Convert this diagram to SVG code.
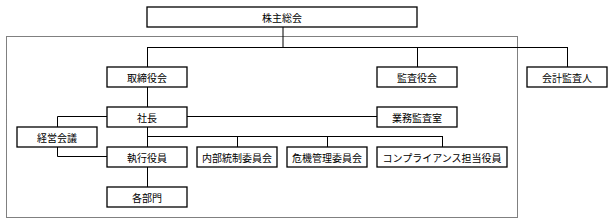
<svg xmlns="http://www.w3.org/2000/svg" width="613" height="223" viewBox="0 0 613 223">
<style>
.b{fill:#fff;stroke:#000;stroke-width:1.3}
.t{font-family:"Noto Sans CJK JP","Noto Sans CJK SC",sans-serif;font-size:10px;fill:#000;text-anchor:middle;dominant-baseline:central}
.c{fill:none;stroke:#000;stroke-width:1}
</style>
<rect x="6.5" y="36.5" width="511" height="181" fill="none" stroke="#000" stroke-width="1" stroke-dasharray="1,1"/>
<g id="connectors">
<path class="c" d="M283 27V47.5M147 47.5H567M147.5 47V67M417.5 47V67M567.5 47V67"/>
<path class="c" d="M147.5 87V107M107 116.5H57.5V127M187 116.5H377M57.5 147V156.5H107"/>
<path class="c" d="M147.5 127V147M147 136.5H442.5M237.5 136V147M327.5 136V147M442.5 136V147M147.5 167V187"/>
</g>
<g id="n1"><rect class="b" x="147" y="7" width="270" height="20"/><text class="t" x="282" y="17">株主総会</text></g>
<g id="n2"><rect class="b" x="107" y="67" width="80" height="20"/><text class="t" x="147" y="77">取締役会</text></g>
<g id="n3"><rect class="b" x="377" y="67" width="80" height="20"/><text class="t" x="417" y="77">監査役会</text></g>
<g id="n4"><rect class="b" x="527" y="67" width="80" height="20"/><text class="t" x="567" y="77">会計監査人</text></g>
<g id="n5"><rect class="b" x="107" y="107" width="80" height="20"/><text class="t" x="147" y="117">社長</text></g>
<g id="n6"><rect class="b" x="377" y="107" width="80" height="20"/><text class="t" x="417" y="117">業務監査室</text></g>
<g id="n7"><rect class="b" x="17" y="127" width="80" height="20"/><text class="t" x="57" y="137">経営会議</text></g>
<g id="n8"><rect class="b" x="107" y="147" width="80" height="20"/><text class="t" x="147" y="157">執行役員</text></g>
<g id="n9"><rect class="b" x="197" y="147" width="80" height="20"/><text class="t" x="237" y="157">内部統制委員会</text></g>
<g id="n10"><rect class="b" x="287" y="147" width="80" height="20"/><text class="t" x="327" y="157">危機管理委員会</text></g>
<g id="n11"><rect class="b" x="377" y="147" width="130" height="20"/><text class="t" x="442" y="157">コンプライアンス担当役員</text></g>
<g id="n12"><rect class="b" x="107" y="187" width="80" height="20"/><text class="t" x="147" y="197">各部門</text></g>
</svg>
